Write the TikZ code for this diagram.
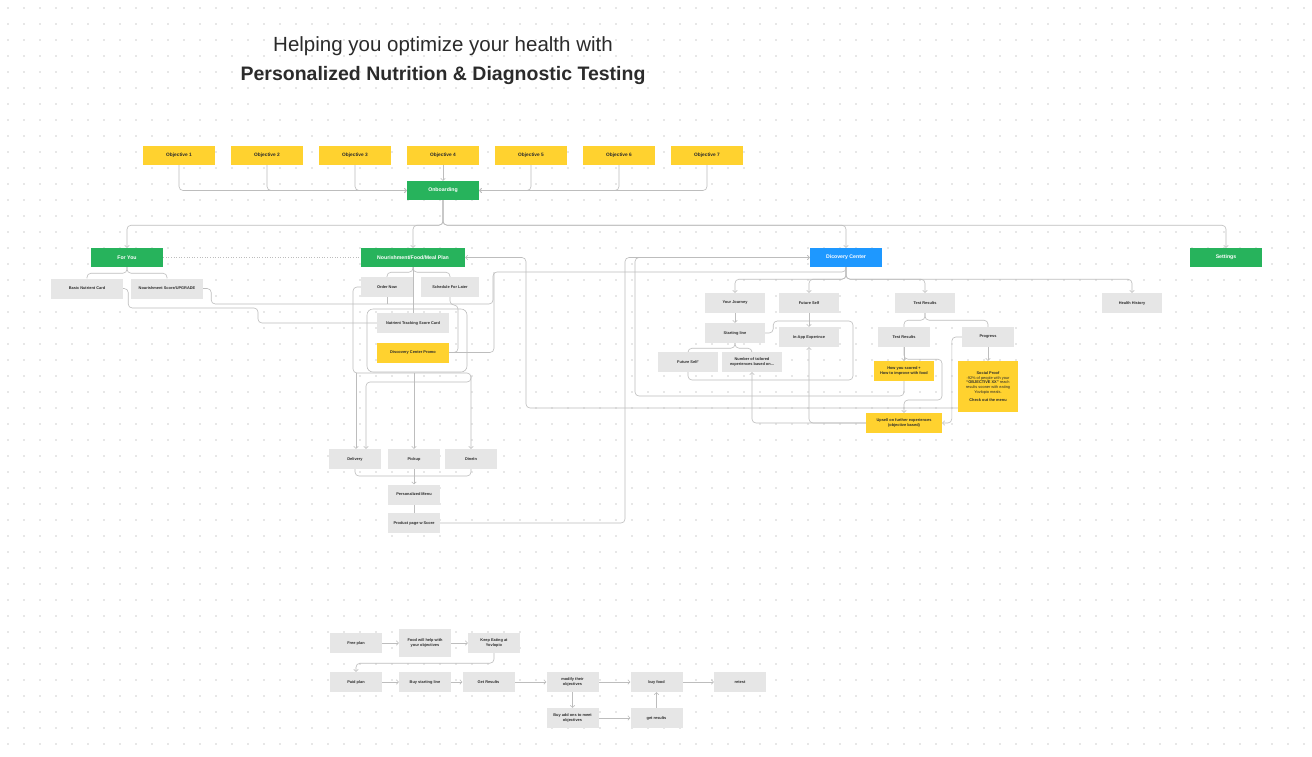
\documentclass[tikz,border=0pt]{standalone}
\usepackage{fontspec}
\setmainfont{Liberation Sans}
\usetikzlibrary{positioning,arrows.meta,backgrounds,calc}
\definecolor{objyellow}{HTML}{FFD22F}
\definecolor{navgreen}{HTML}{27B35C}
\definecolor{navblue}{HTML}{1E98FF}
\definecolor{cardgray}{HTML}{E6E6E6}
\definecolor{wiregray}{HTML}{BDBDBD}
\definecolor{dotgray}{HTML}{CFCFCF}
\definecolor{inktext}{HTML}{2B2B2B}

\begin{document}
\begin{tikzpicture}[x=1pt,y=-1pt,
  >={Straight Barb[length=2pt,width=4.5pt]},
  box/.style={minimum width=52pt,minimum height=20pt,inner sep=1pt,align=center,
    font=\fontsize{3.9}{4.9}\selectfont\bfseries,text=inktext},
  card/.style={box,fill=cardgray},
  note/.style={box,fill=objyellow},
  tab/.style={box,fill=navgreen,minimum width=72pt,minimum height=19pt,text=white,
    font=\fontsize{5.2}{6}\selectfont\bfseries},
  wire/.style={draw=wiregray,line width=0.6pt,rounded corners=4pt},
]
\useasboundingbox (0,0) rectangle (1312,756);

% heading
\node[font=\fontsize{20.5}{24}\selectfont,text=inktext] (tagline) at (443,46) {Helping you optimize your health with};
\node[font=\fontsize{19.5}{24}\selectfont\bfseries,text=inktext] (headline) at (443,75) {Personalized Nutrition \& Diagnostic Testing};

% objectives and onboarding
\foreach \i/\x in {1/179,2/267,3/355,4/443,5/531,6/619,7/707}
  \node[note,minimum width=72pt,minimum height=19pt,font=\fontsize{4.8}{5.5}\selectfont\bfseries] (obj\i) at (\x,155) {Objective \i};
\node[tab] (onboard) at (443,190.5) {Onboarding};

% main tabs
\node[tab] (foryou) at (127,257.5) {For You};
\node[tab,minimum width=104pt] (nourish) at (413,257.5) {Nourishment/Food/Meal Plan};
\node[tab,fill=navblue] (discovery) at (846,257.5) {Dicovery Center};
\node[tab] (settings) at (1226,257.5) {Settings};

% for you
\node[card,minimum width=72pt] (basic) at (87,288.5) {Basic Nutrient Card};
\node[card,minimum width=72pt] (score) at (167,288.5) {Nourishment Score/UPGRADE};

% nourishment
\node[card] (ordernow) at (387,287) {Order Now};
\node[card,minimum width=58pt] (schedule) at (450,287) {Schedule For Later};
\node[card,minimum width=72pt] (tracking) at (413,323) {Nutrient Tracking Score Card};
\node[note,minimum width=72pt] (promo) at (413,352.5) {Discovery Center Promo};
\node[card] (delivery) at (355,459) {Delivery};
\node[card] (pickup) at (414,459) {Pickup};
\node[card] (dinein) at (471,459) {DineIn};
\node[card] (menu) at (414,494.5) {Personalized Menu};
\node[card] (product) at (414,523) {Product page w Score};

% discovery center
\node[card,minimum width=60pt] (journey) at (735,303) {Your Journey};
\node[card,minimum width=60pt] (future) at (809,303) {Future Self};
\node[card,minimum width=60pt] (tests) at (925,303) {Test Results};
\node[card,minimum width=60pt] (history) at (1132,303) {Health History};
\node[card,minimum width=60pt] (starting) at (735,333) {Starting line};
\node[card,minimum width=60pt] (inapp) at (809,337) {In-App Experince};
\node[card,minimum width=60pt] (futureself) at (688,362) {Future Self'};
\node[card,minimum width=60pt] (tailored) at (752,362) {Number of tailored\\experiences based on...};
\node[card] (testres) at (904,337) {Test Results};
\node[card] (progress) at (988,337) {Progress};
\node[note,minimum width=60pt] (scored) at (904,371) {How you scored +\\How to improve with food};
\node[note,minimum width=60pt,minimum height=51pt] (social) at (988,386.5) {Social Proof\\{\mdseries -92\% of people with your}\\``OBJECTIVE XX'' {\mdseries reach}\\{\mdseries results sooner with eating}\\{\mdseries Yovlopio meals.}\\[3pt]Check out the menu};
\node[note,minimum width=76pt] (upsell) at (904,423) {Upsell on further experiences\\(objective based)};

% plans
\node[card] (free) at (356,643) {Free plan};
\node[card,minimum height=28pt] (foodhelp) at (425,643) {Food will help with\\your objectives};
\node[card] (keep) at (494,643) {Keep Eating at\\Yovlopio};
\node[card] (paid) at (356,682) {Paid plan};
\node[card] (buystart) at (425,682) {Buy starting line};
\node[card] (getresults) at (488.5,682) {Get Results};
\node[card] (modify) at (572.5,682) {modify their\\objectives};
\node[card] (buyfood) at (656.5,682) {buy food};
\node[card] (retest) at (740,682) {retest};
\node[card] (addons) at (572.5,718) {Buy add ons to meet\\objectives};
\node[card] (getres) at (656.5,718) {get results};

\begin{scope}[on background layer]
\fill[white] (0,0) rectangle (1312,756);
% dotted canvas
\foreach \gx in {8,24,...,1304}
  \foreach \gy in {8,24,...,748}
    \fill[dotgray] (\gx,\gy) circle (0.8pt);

% objectives into onboarding
\foreach \i in {1,2,3}
  \draw[wire,->] (obj\i.south) |- (onboard.west);
\foreach \i in {5,6,7}
  \draw[wire,->] (obj\i.south) |- (onboard.east);
\draw[wire,->] (obj4) -- (onboard);
% onboarding into tabs
\foreach \t in {foryou,nourish,discovery,settings}
  \draw[wire,->] (onboard.south) -- ++(0,25) -| (\t.north);
\draw[wiregray,line width=0.6pt,dotted] (foryou.east) -- (nourish.west);

% for you
\draw[wire] (foryou.south) -- ++(0,6) -| (basic.north);
\draw[wire] (foryou.south) -- ++(0,6) -| (score.north);
\draw[wire] (basic.east) -- ++(5,0) |- (258,308) |- (tracking.west);
\draw[wire] (score.east) -- ++(8,0) |- (493,304) |- (846,272) -- (discovery.south);
\draw[wire] (promo.east) -| (494,272);

% nourishment
\draw[wire] (nourish.south) -- (tracking.north);
\draw[wire] (nourish.south) -- ++(0,5) -| (ordernow.north);
\draw[wire] (nourish.south) -- ++(0,5) -| (schedule.north);
\draw[wire] (ordernow.south) -- (387,304);
\draw[wire] (schedule.south) |- (458,305) |- (promo.east);
\draw[wire,rounded corners=6pt] (367,309) rectangle (467,372);
\draw[wire,->] (ordernow.west) -| (353,373) -| (dinein.north);
\draw[wire,->] (356,373) -- ([xshift=1pt]delivery.north);
\draw[wire,->] (414,373) -- (pickup.north);
\draw[wire,->] (471,376) |- (420,382) -| ([xshift=11pt]delivery.north);
\draw[wire] (delivery.south) |- (414,476);
\draw[wire] (dinein.south) |- (414,476);
\draw[wire,->] (pickup.south) -- (menu.north);
\draw[wire] (menu) -- (product);
\draw[wire,->] (product.east) -| (625,257.5) -- (discovery.west);
\draw[wire,->] (988,404) |- (526,408) |- (nourish.east);

% discovery center
\foreach \t in {journey,future,tests,history}
  \draw[wire,->] (discovery.south) -- ++(0,12) -| (\t.north);
\draw[wire,->] (journey) -- (starting);
\draw[wire,->] (future) -- (inapp);
\draw[wire] (starting.south) -- ++(0,5) -| (futureself.north);
\draw[wire] (starting.south) -- ++(0,5) -| (tailored.north);
\draw[wire] (starting.east) -- ++(8,0) |- (853,321) |- (688,380) -- (futureself.south);
\draw[wire] (tests.south) -- ++(0,7) -| (testres.north);
\draw[wire] (tests.south) -- ++(0,7) -| (progress.north);
\draw[wire,->] (testres) -- (scored);
\draw[wire,->] (testres.south) -- ++(0,12) -| (942,400) -| (upsell.north);
\draw[wire,->] (scored.south) |- (635,396) |- (discovery.west);
\draw[wire,->] (progress) -- (social);
\draw[wire,->] (progress.west) -- ++(-10,0) |- (upsell.east);
\draw[wire,->] (upsell.west) -| (tailored.south);
\draw[wire,->] (upsell.west) -| (inapp.south);

% plans
\draw[wire,->] (free) -- (foodhelp);
\draw[wire,->] (foodhelp) -- (keep);
\draw[wire,->] (keep.south) -- ++(0,10) -| (paid.north);
\draw[wire,->] (paid) -- (buystart);
\draw[wire,->] (buystart) -- (getresults);
\draw[wire,->] (getresults) -- (modify);
\draw[wire,->] (modify) -- (buyfood);
\draw[wire,->] (buyfood) -- (retest);
\draw[wire,->] (modify) -- (addons);
\draw[wire,->] (addons) -- (getres);
\draw[wire,->] (getres) -- (buyfood);
\end{scope}
\end{tikzpicture}
\end{document}
